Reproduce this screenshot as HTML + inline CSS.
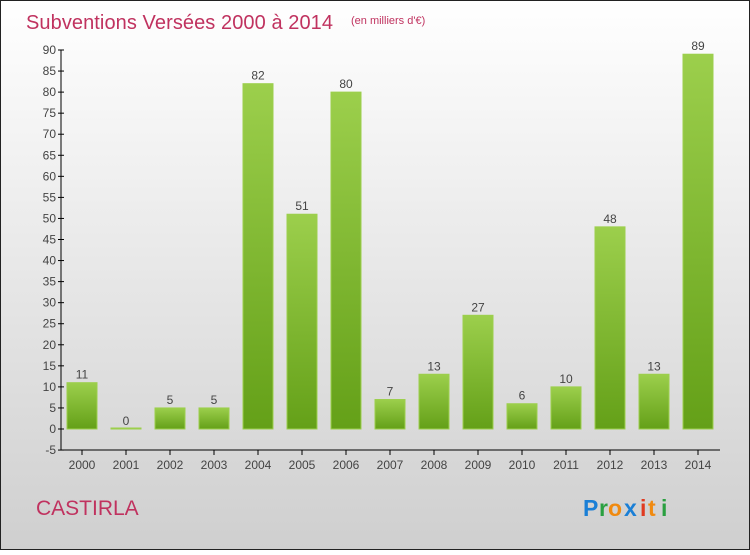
<!DOCTYPE html>
<html><head><meta charset="utf-8"><style>
body{margin:0;width:750px;height:550px;overflow:hidden;font-family:"Liberation Sans",sans-serif}
</style></head><body>
<svg width="750" height="550" xmlns="http://www.w3.org/2000/svg">
<defs>
<linearGradient id="bg" x1="0" y1="0" x2="0" y2="1"><stop offset="0" stop-color="#ffffff"/><stop offset="1" stop-color="#cfcfcf"/></linearGradient>
<linearGradient id="bar" x1="0" y1="0" x2="0" y2="1"><stop offset="0" stop-color="#9ccf4c"/><stop offset="1" stop-color="#64a018"/></linearGradient>
</defs>
<rect x="0.5" y="0.5" width="749" height="549" fill="url(#bg)" stroke="#222"/>
<text x="26" y="29" font-size="20" fill="#c0325f" textLength="307">Subventions Versées 2000 à 2014</text>
<text x="351" y="24" font-size="11" fill="#c0325f">(en milliers d'€)</text>
<text x="36" y="515" font-size="21" fill="#c0325f">CASTIRLA</text>
<g font-size="23" font-weight="bold">
<text x="583" y="516" fill="#1a7fd6">P</text><text x="599" y="516" fill="#2aa040">r</text><text x="608" y="516" fill="#f08a10">o</text><text x="624" y="516" fill="#1a7fd6">x</text><text x="640" y="516" fill="#e03a20">i</text><text x="648" y="516" fill="#f08a10">t</text><text x="661" y="516" fill="#2aa040">i</text>
</g>
<g id="axes"></g><g id="bars"></g>
</svg>
<script>
const years=["2000","2001","2002","2003","2004","2005","2006","2007","2008","2009","2010","2011","2012","2013","2014"];
const values=[11,0,5,5,82,51,80,7,13,27,6,10,48,13,89];
const yTicks=[-5,0,5,10,15,20,25,30,35,40,45,50,55,60,65,70,75,80,85,90];
const NS="http://www.w3.org/2000/svg";
const y=v=>429-v*(379/90);
const x=i=>82+i*44;
function mk(t,a,p){const e=document.createElementNS(NS,t);for(const k in a)e.setAttribute(k,a[k]);p.appendChild(e);return e;}
const ax=document.getElementById('axes'),bs=document.getElementById('bars');
const yl=mk('line',{x1:61,y1:y(90),x2:61,y2:y(-5),stroke:'#000'},ax);


const xl=mk('line',{x1:61,y1:y(-5),x2:720,y2:y(-5),stroke:'#000'},ax);


yTicks.forEach(v=>{
 mk('line',{x1:58,y1:y(v),x2:64,y2:y(v),stroke:'#000'},ax);
 const t=mk('text',{x:56,y:y(v)+4,'font-size':12,fill:'#444','text-anchor':'end'},ax);t.textContent=v;
 
 
});
years.forEach((yr,i)=>{
 mk('line',{x1:x(i),y1:y(-5),x2:x(i),y2:y(-5)+5,stroke:'#000'},ax);
 const t=mk('text',{x:x(i),y:469,'font-size':12,fill:'#444','text-anchor':'middle'},ax);t.textContent=yr;
 
 
 const v=values[i];
 const h=Math.max(y(0)-y(v),1);
 const r=mk('rect',{x:x(i)-15,y:y(0)-h,width:30,height:h,fill:'url(#bar)',stroke:'#9ccf4c','stroke-width':1},bs);
 
 
 const l=mk('text',{x:x(i),y:y(v)-4,'font-size':12,fill:'#444','text-anchor':'middle'},bs);l.textContent=v;
 
 
});
</script>
</body></html>
